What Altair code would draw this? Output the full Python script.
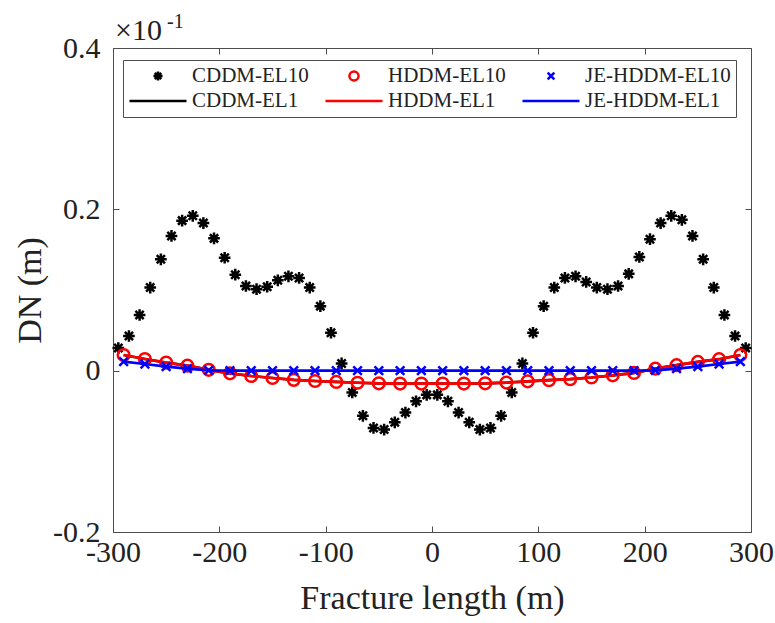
import altair as alt
import pandas as pd

# ---- data (DN in units of 1e-1 m) ----
# legend is filled column by column: marker entry above its line entry
series_order = ["CDDM-EL10", "CDDM-EL1", "HDDM-EL10",
                "HDDM-EL1", "JE-HDDM-EL10", "JE-HDDM-EL1"]
series_colors = ["#000000", "#000000", "#ff0000",
                 "#ff0000", "#0000ff", "#0000ff"]

cddm_x = [-295, -285, -275, -265, -255, -245, -235, -225, -215, -205,
          -195, -185, -175, -165, -155, -145, -135, -125, -115, -105,
          -95, -85, -75, -65, -55, -45, -35, -25, -15, -5,
          5, 15, 25, 35, 45, 55, 65, 75, 85, 95,
          105, 115, 125, 135, 145, 155, 165, 175, 185, 195,
          205, 215, 225, 235, 245, 255, 265, 275, 285, 295]
cddm_el10 = [0.028, 0.043, 0.069, 0.103, 0.138, 0.167, 0.186, 0.192, 0.183, 0.164,
             0.140, 0.119, 0.105, 0.101, 0.104, 0.112, 0.117, 0.115, 0.103, 0.080,
             0.047, 0.009, -0.027, -0.056, -0.071, -0.073, -0.064, -0.052, -0.038, -0.030,
             -0.030, -0.038, -0.052, -0.064, -0.073, -0.071, -0.056, -0.027, 0.009, 0.047,
             0.080, 0.103, 0.115, 0.117, 0.110, 0.103, 0.101, 0.105, 0.120, 0.141,
             0.163, 0.183, 0.192, 0.187, 0.167, 0.138, 0.103, 0.069, 0.043, 0.028]

hddm_x = [-290, -270, -250, -230, -210, -190, -170, -150, -130, -110,
          -90, -70, -50, -30, -10, 10, 30, 50, 70, 90,
          110, 130, 150, 170, 190, 210, 230, 250, 270, 290]
hddm_el10 = [0.0194, 0.0145, 0.0100, 0.0062, 0.0010, -0.0033, -0.0066, -0.0091, -0.0114, -0.0128,
             -0.0140, -0.0150, -0.0157, -0.0160, -0.0160, -0.0160, -0.0160, -0.0157, -0.0148, -0.0132,
             -0.0118, -0.0105, -0.0085, -0.0058, -0.0028, 0.0025, 0.0068, 0.0108, 0.0142, 0.0194]
je_hddm_el10 = [0.0112, 0.0083, 0.0050, 0.0025, 0.0004, 0.0, 0.0, 0.0, 0.0, 0.0,
                0.0, 0.0, 0.0, 0.0, 0.0, 0.0, 0.0, 0.0, 0.0, 0.0,
                0.0, 0.0, 0.0, 0.0, 0.0, 0.0004, 0.0025, 0.0050, 0.0083, 0.0112]

el1_x = [-290, -270, -250, -230, -210, -190, -170, -150, -130, -110,
         -90, -70, -50, -30, -10, 10, 30, 50, 70, 90,
         110, 130, 150, 170, 190, 210, 230, 250, 270, 290]
cddm_el1 = [0.0194, 0.0145, 0.0100, 0.0062, 0.0010, -0.0033, -0.0066, -0.0091, -0.0114, -0.0128,
            -0.0140, -0.0150, -0.0157, -0.0160, -0.0160, -0.0160, -0.0160, -0.0157, -0.0148, -0.0132,
            -0.0118, -0.0105, -0.0085, -0.0058, -0.0028, 0.0025, 0.0068, 0.0108, 0.0142, 0.0194]
hddm_el1 = [0.0194, 0.0145, 0.0100, 0.0062, 0.0010, -0.0033, -0.0066, -0.0091, -0.0114, -0.0128,
            -0.0140, -0.0150, -0.0157, -0.0160, -0.0160, -0.0160, -0.0160, -0.0157, -0.0148, -0.0132,
            -0.0118, -0.0105, -0.0085, -0.0058, -0.0028, 0.0025, 0.0068, 0.0108, 0.0142, 0.0194]
je_hddm_el1 = [0.0112, 0.0083, 0.0050, 0.0025, 0.0004, 0.0, 0.0, 0.0, 0.0, 0.0,
               0.0, 0.0, 0.0, 0.0, 0.0, 0.0, 0.0, 0.0, 0.0, 0.0,
               0.0, 0.0, 0.0, 0.0, 0.0, 0.0004, 0.0025, 0.0050, 0.0083, 0.0112]

x_ticks = [-300, -200, -100, 0, 100, 200, 300]
y_ticks = [-0.2, 0.0, 0.2, 0.4]

# ---- tables ----
markers = pd.concat([
    pd.DataFrame({"series": "CDDM-EL10", "x": cddm_x, "y": cddm_el10}),
    pd.DataFrame({"series": "HDDM-EL10", "x": hddm_x, "y": hddm_el10}),
    pd.DataFrame({"series": "JE-HDDM-EL10", "x": hddm_x, "y": je_hddm_el10}),
], ignore_index=True)
lines_under = pd.concat([
    pd.DataFrame({"series": "CDDM-EL1", "x": el1_x, "y": cddm_el1}),
    pd.DataFrame({"series": "HDDM-EL1", "x": el1_x, "y": hddm_el1}),
], ignore_index=True)
line_top = pd.DataFrame({"series": "JE-HDDM-EL1", "x": el1_x, "y": je_hddm_el1})

# ---- styling ----
W, H = 638, 484
FONT = "Liberation Serif"
TXT = "#222222"
FRAME = "#4d4d4d"

# marker paths in the [-1, 1] symbol box (scaled by sqrt(size) / 2)
asterisk = ("M0,-0.16L0,0.16M-0.16,0L0.16,0"
            "M-0.113,-0.113L0.113,0.113M-0.113,0.113L0.113,-0.113")
ring = "M0.16,0A0.16,0.16,0,1,1,-0.16,0A0.16,0.16,0,1,1,0.16,0Z"
cross = "M-0.118,-0.118L0.118,0.118M-0.118,0.118L0.118,-0.118"
series_shapes = [asterisk, "stroke", ring, "stroke", cross, "stroke"]

xs = alt.Scale(domain=[-300, 300], nice=False, zero=False)
ys = alt.Scale(domain=[-0.2, 0.4], nice=False, zero=False)
cs = alt.Scale(domain=series_order, range=series_colors)
ss = alt.Scale(domain=series_order, range=series_shapes)

legend = alt.Legend(
    title=None, orient="none", legendX=10, legendY=12, columns=3,
    symbolSize=3249, symbolStrokeWidth=2.5, symbolOffset=0,
    clipHeight=22, rowPadding=3, columnPadding=15, padding=5,
    labelFont=FONT, labelFontSize=21, labelColor=TXT, labelOffset=4,
    labelLimit=300, strokeColor=FRAME, fillColor="white",
)

x_lbl = "datum.value < 0 ? '-' + format(-datum.value, 'd') : format(datum.value, 'd')"
y_lbl = ("datum.value == 0 ? '0' : (datum.value < 0 ? '-' + format(-datum.value, '.1f')"
         " : format(datum.value, '.1f'))")

x_main = alt.Axis(
    orient="bottom", values=x_ticks, labelExpr=x_lbl, labelFont=FONT,
    labelFontSize=30, labelColor=TXT, labelPadding=5, labelFlush=False,
    labelOverlap=False, ticks=False, domain=True, domainColor=FRAME,
    grid=False, title="Fracture length (m)", titleFont=FONT, titleFontSize=34,
    titleFontWeight="normal", titleColor=TXT, titleX=W / 2, titleY=76,
    titleAlign="center", titleBaseline="alphabetic",
)
x_in_bottom = alt.Axis(orient="top", offset=-H, values=x_ticks, labels=False,
                       ticks=True, tickSize=6, tickColor=FRAME, domain=False,
                       grid=False, title=None)
x_in_top = alt.Axis(orient="bottom", offset=-H, values=x_ticks, labels=False,
                    ticks=True, tickSize=6, tickColor=FRAME, domain=True,
                    domainColor=FRAME, grid=False, title=None)

y_main = alt.Axis(
    orient="left", values=y_ticks, labelExpr=y_lbl, labelFont=FONT,
    labelFontSize=30, labelColor=TXT, labelPadding=13, labelFlush=False,
    labelOverlap=False, ticks=False, domain=True, domainColor=FRAME,
    grid=False, title="DN (m)", titleFont=FONT, titleFontSize=34,
    titleFontWeight="normal", titleColor=TXT, titleAngle=270, titleX=-83,
    titleY=H / 2, titleAlign="center", titleBaseline="middle",
)
y_in_left = alt.Axis(orient="right", offset=-W, values=y_ticks, labels=False,
                     ticks=True, tickSize=6, tickColor=FRAME, domain=False,
                     grid=False, title=None)
y_in_right = alt.Axis(orient="left", offset=-W, values=y_ticks, labels=False,
                      ticks=True, tickSize=6, tickColor=FRAME, domain=True,
                      domainColor=FRAME, grid=False, title=None)

# ---- layers ----
under = alt.Chart(lines_under).mark_line(strokeWidth=2.7).encode(
    x=alt.X("x:Q", scale=xs, axis=x_main),
    y=alt.Y("y:Q", scale=ys, axis=y_main),
    color=alt.Color("series:N", scale=cs, legend=legend),
)

points = alt.Chart(markers).mark_point(
    filled=False, size=5329, strokeWidth=2.5, opacity=1
).encode(
    x=alt.X("x:Q", scale=xs, axis=x_in_bottom),
    y=alt.Y("y:Q", scale=ys, axis=y_in_left),
    color=alt.Color("series:N", scale=cs, legend=legend),
    shape=alt.Shape("series:N", scale=ss, legend=legend),
)

top = alt.Chart(line_top).mark_line(strokeWidth=2.7).encode(
    x=alt.X("x:Q", scale=xs, axis=x_in_top),
    y=alt.Y("y:Q", scale=ys, axis=y_in_right),
    color=alt.Color("series:N", scale=cs, legend=legend),
)

# axis multiplier above the frame
mult = alt.Chart(alt.Data(values=[{"t": "×10"}])).mark_text(
    align="left", baseline="alphabetic", font=FONT, fontSize=30, color=TXT
).encode(x=alt.value(2), y=alt.value(-8), text="t:N")
mult_exp = alt.Chart(alt.Data(values=[{"t": "-1"}])).mark_text(
    align="left", baseline="alphabetic", font=FONT, fontSize=20, color=TXT
).encode(x=alt.value(54), y=alt.value(-20), text="t:N")

chart = alt.layer(under, points, top, mult, mult_exp).resolve_axis(
    x="independent", y="independent"
).properties(
    width=W, height=H,
    padding={"left": 113, "top": 48, "right": 24, "bottom": 91},
    autosize=alt.AutoSizeParams(type="none"),
    background="white",
).configure_view(stroke=None)

chart.save("out.html", embed_options={"renderer": "svg", "actions": False})
